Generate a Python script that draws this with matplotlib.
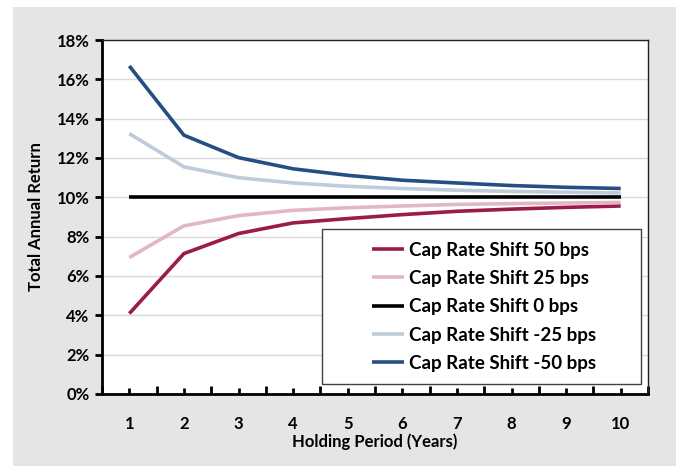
import matplotlib
matplotlib.use("Agg")
import matplotlib.pyplot as plt
from matplotlib.patches import Rectangle
from matplotlib.ticker import FuncFormatter, FixedLocator

years = [1, 2, 3, 4, 5, 6, 7, 8, 9, 10]
shift_50 = [4.09, 7.14, 8.16, 8.70, 8.92, 9.12, 9.29, 9.40, 9.49, 9.56]
shift_25 = [6.94, 8.55, 9.07, 9.34, 9.47, 9.56, 9.64, 9.68, 9.71, 9.74]
shift_0 = [10.0, 10.0, 10.0, 10.0, 10.0, 10.0, 10.0, 10.0, 10.0, 10.0]
shift_m25 = [13.24, 11.55, 11.00, 10.73, 10.56, 10.45, 10.36, 10.30, 10.26, 10.22]
shift_m50 = [16.68, 13.16, 12.02, 11.45, 11.12, 10.87, 10.73, 10.60, 10.51, 10.45]
labels = ["Cap Rate Shift 50 bps", "Cap Rate Shift 25 bps", "Cap Rate Shift 0 bps",
          "Cap Rate Shift -25 bps", "Cap Rate Shift -50 bps"]
colors = ["#9B1C48", "#E2B6C5", "#000000", "#BECBD9", "#254F82"]
yticks = [0, 2, 4, 6, 8, 10, 12, 14, 16, 18]

plt.rcParams['font.family'] = ['Lato', 'DejaVu Sans']
plt.rcParams['font.weight'] = 'bold'

fig = plt.figure(figsize=(6.76, 4.66), dpi=100)
fig.patches.append(Rectangle((13/676, 0), 1, 1 - 7/466, transform=fig.transFigure,
                             facecolor="#E5E5E5", edgecolor="none", zorder=-10))
ax = fig.add_axes([102/676, 1 - 394/466, 546/676, 354/466])
ax.set_facecolor("white")

for vals, lab, c in zip([shift_50, shift_25, shift_0, shift_m25, shift_m50], labels, colors):
    ax.plot(years, vals, color=c, lw=2.6, label=lab, solid_capstyle='butt')

ax.set_xlim(0.5, 10.5)
ax.set_ylim(0, 18)
ax.set_yticks(yticks)
ax.yaxis.set_major_formatter(FuncFormatter(lambda v, p: f"{v:.0f}%"))
ax.grid(axis='y', color="#DADADA", lw=1)
ax.set_axisbelow(True)

ax.xaxis.set_major_locator(FixedLocator([x + 0.5 for x in range(0, 11)]))
ax.xaxis.set_minor_locator(FixedLocator(years))
ax.xaxis.set_major_formatter(FuncFormatter(lambda v, p: ""))
ax.xaxis.set_minor_formatter(FuncFormatter(lambda v, p: f"{v:.0f}"))
ax.tick_params(axis='x', which='major', direction='in', length=6, width=2, color='black')
ax.tick_params(axis='x', which='minor', direction='in', length=4, width=2, color='black',
               pad=16, labelsize=12)
ax.tick_params(axis='y', which='major', direction='out', length=5, width=2, color='black',
               labelsize=12, pad=4)

for s in ['left', 'bottom']:
    ax.spines[s].set_linewidth(2)
    ax.spines[s].set_color('black')
for s in ['top', 'right']:
    ax.spines[s].set_linewidth(1)
    ax.spines[s].set_color('#222222')

ax.set_xlabel("Holding Period (Years)", fontsize=12, fontweight='bold', labelpad=1)
ax.set_ylabel("Total Annual Return", fontsize=12, fontweight='bold', labelpad=9)

# legend frame (Excel-style wide box)
ax.add_patch(Rectangle((0.403, 0.028), 0.584, 0.437, transform=ax.transAxes,
                       facecolor='white', edgecolor='#404040', lw=1, zorder=4))
leg = ax.legend(loc='center left', bbox_to_anchor=(0.4936, 0.2463), fontsize=13.5,
                frameon=False, handlelength=1.75, handletextpad=0.25,
                labelspacing=0.6, borderpad=0, borderaxespad=0)
leg.set_zorder(5)

fig.savefig("out.png", dpi=100)
